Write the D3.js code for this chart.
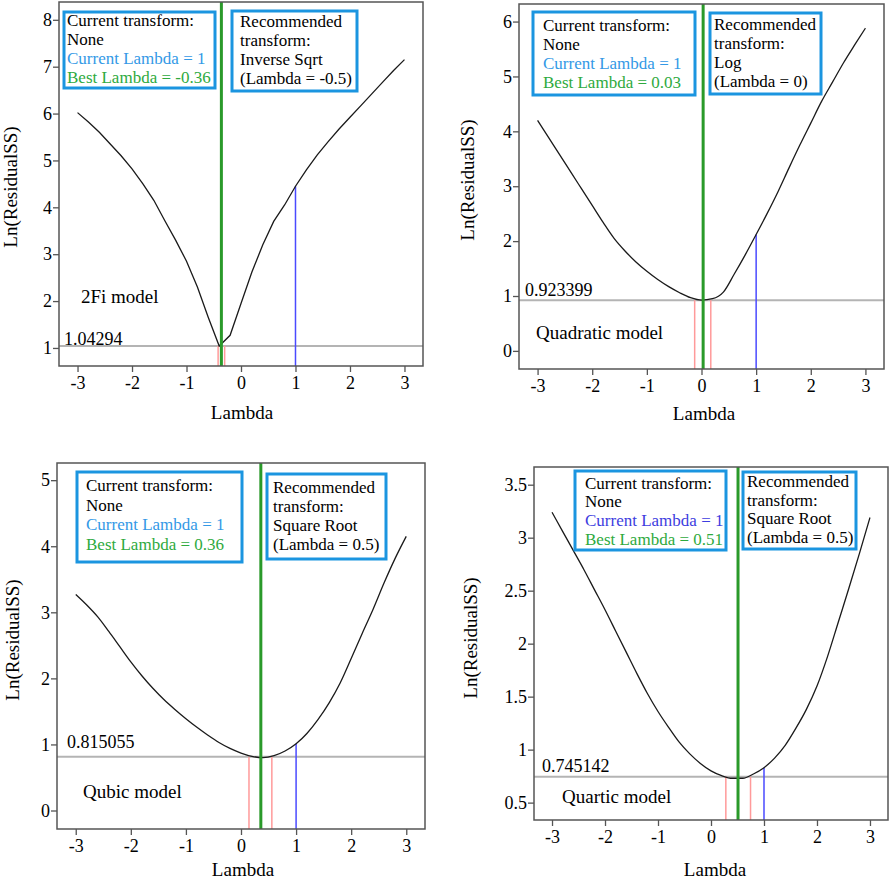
<!DOCTYPE html>
<html>
<head>
<meta charset="utf-8">
<script src="https://cdn.jsdelivr.net/npm/d3@7"></script>
<style>
  html, body { margin: 0; padding: 0; background: #fff; }
  svg { display: block; }
  text { font-family: "Liberation Serif", "Times New Roman", serif; fill: #000; }
</style>
</head>
<body>
<svg id="chart" width="890" height="880"></svg>
<script>
// ---------------- DATA ----------------
const lambdaGrid = [-3.0, -2.8, -2.6, -2.4, -2.2, -2.0, -1.8, -1.6, -1.4, -1.2, -1.0, -0.8, -0.6, -0.4, -0.2,
                    0.0, 0.2, 0.4, 0.6, 0.8, 1.0, 1.2, 1.4, 1.6, 1.8, 2.0, 2.2, 2.4, 2.6, 2.8, 3.0];

const rss2Fi       = [6.02, 5.82, 5.60, 5.35, 5.10, 4.82, 4.50, 4.15, 3.72, 3.30, 2.85, 2.30, 1.65, 1.04, 1.27,
                      1.95, 2.62, 3.20, 3.70, 4.05, 4.45, 4.80, 5.12, 5.40, 5.67, 5.92, 6.17, 6.42, 6.67, 6.92, 7.15];
const rssQuadratic = [4.20, 3.89, 3.58, 3.27, 2.96, 2.65, 2.34, 2.05, 1.82, 1.62, 1.45, 1.30, 1.17, 1.06, 0.97,
                      0.925, 0.95, 1.07, 1.40, 1.75, 2.12, 2.50, 2.90, 3.33, 3.75, 4.15, 4.55, 4.90, 5.25, 5.57, 5.88];
const rssCubic     = [3.27, 3.11, 2.93, 2.71, 2.48, 2.25, 2.04, 1.85, 1.68, 1.53, 1.39, 1.26, 1.14, 1.03, 0.94,
                      0.87, 0.82, 0.80, 0.83, 0.90, 1.01, 1.17, 1.38, 1.63, 1.93, 2.30, 2.68, 3.05, 3.45, 3.82, 4.15];
const rssQuartic   = [3.24, 3.06, 2.88, 2.70, 2.51, 2.32, 2.12, 1.92, 1.72, 1.53, 1.36, 1.21, 1.07, 0.96, 0.87,
                      0.80, 0.755, 0.73, 0.73, 0.77, 0.83, 0.92, 1.04, 1.20, 1.38, 1.60, 1.88, 2.20, 2.52, 2.85, 3.19];

const modelNames     = ["2Fi model", "Quadratic model", "Qubic model", "Quartic model"];
const minRSS         = [1.04294, 0.923399, 0.815055, 0.745142];
const minRSSLabels   = ["1.04294", "0.923399", "0.815055", "0.745142"];
const bestLambda     = [-0.36, 0.03, 0.36, 0.51];
const ciLow          = [-0.42, -0.125, 0.145, 0.28];
const ciHigh         = [-0.30, 0.17, 0.56, 0.746];
const currentLambda  = [1, 1, 1, 1];
const recTransform   = ["Inverse Sqrt", "Log", "Square Root", "Square Root"];
const recLambda      = ["-0.5", "0", "0.5", "0.5"];
const bestLabels     = ["-0.36", "0.03", "0.36", "0.51"];

const xTicks  = [-3, -2, -1, 0, 1, 2, 3];
const yTicks1 = [1, 2, 3, 4, 5, 6, 7, 8];
const yTicks2 = [0, 1, 2, 3, 4, 5, 6];
const yTicks3 = [0, 1, 2, 3, 4, 5];
const yTicks4 = [0.5, 1, 1.5, 2, 2.5, 3, 3.5];

const xTitle = "Lambda";
const yTitle = "Ln(ResidualSS)";

// ---------------- LAYOUT ----------------
const panels = [
  { rss: rss2Fi, yTicks: yTicks1, x0: 59, x1: 423, y0: 2, y1: 366, yDom: [0.615, 8.38], curve: d3.curveLinear,
    yTitleX: 10, yTitleY: 187, xTitleX: 242, xTitleY: 419,
    model: [81, 303], minLab: [64, 1],
    box1: [64, 12, 215, 88], t1: [67, 26, 19], box2: [232, 11, 357, 91], t2: [240, 27, 19], curColor: "#3399e6" },
  { rss: rssQuadratic, yTicks: yTicks2, x0: 519, x1: 884, y0: 4, y1: 369, yDom: [-0.33, 6.32], curve: d3.curveMonotoneX,
    yTitleX: 467, yTitleY: 180, xTitleX: 704, xTitleY: 420,
    model: [536, 339], minLab: [525, 4],
    box1: [533, 12, 695, 95], t1: [543, 30.5, 19], box2: [710, 13, 821, 94], t2: [714, 29.5, 19], curColor: "#3399e6" },
  { rss: rssCubic, yTicks: yTicks3, x0: 57, x1: 425, y0: 463, y1: 829, yDom: [-0.28, 5.26], curve: d3.curveMonotoneX,
    yTitleX: 12, yTitleY: 640, xTitleX: 243, xTitleY: 876,
    model: [83, 798], minLab: [67, 8.5],
    box1: [77, 472, 242, 562], t1: [86, 491, 19.5], box2: [267, 474, 386, 559], t2: [273, 493, 19], curColor: "#3399e6" },
  { rss: rssQuartic, yTicks: yTicks4, x0: 534, x1: 888, y0: 467, y1: 820, yDom: [0.336, 3.667], curve: d3.curveMonotoneX,
    yTitleX: 470, yTitleY: 638, xTitleX: 715, xTitleY: 876,
    model: [562, 803], minLab: [542, 5],
    box1: [575, 471, 726, 550], t1: [585, 488.5, 18.7], box2: [743, 472, 856, 549], t2: [747, 487, 18.7], curColor: "#3d3de0" }
];

const svg = d3.select("#chart");
const GREEN = "#2a9a2a", BOX = "#1b95e0", BESTC = "#2eaa3e";

panels.forEach((p, i) => {
  const x = d3.scaleLinear().domain([-3.34, 3.34]).range([p.x0, p.x1]);
  const y = d3.scaleLinear().domain(p.yDom).range([p.y1, p.y0]);
  const g = svg.append("g");

  // min reference line
  g.append("line").attr("x1", p.x0).attr("x2", p.x1)
    .attr("y1", y(minRSS[i])).attr("y2", y(minRSS[i]))
    .attr("stroke", "#b4b4b4").attr("stroke-width", 2);

  // CI (pink) lines
  [ciLow[i], ciHigh[i]].forEach(l => {
    g.append("line").attr("x1", x(l)).attr("x2", x(l))
      .attr("y1", p.y1).attr("y2", y(minRSS[i]))
      .attr("stroke", "#ff9a9a").attr("stroke-width", 1.5);
  });

  // current lambda (blue) line up to the curve
  const idx = lambdaGrid.indexOf(currentLambda[i]);
  g.append("line").attr("x1", x(currentLambda[i])).attr("x2", x(currentLambda[i]))
    .attr("y1", p.y1).attr("y2", y(p.rss[idx]))
    .attr("stroke", "#4a4aff").attr("stroke-width", 1.5);

  // curve
  const pts = lambdaGrid.map((l, k) => [l, p.rss[k]]);
  g.append("path").datum(pts)
    .attr("d", d3.line().x(d => x(d[0])).y(d => y(d[1])).curve(p.curve))
    .attr("fill", "none").attr("stroke", "#1a1a1a").attr("stroke-width", 1.3);

  // best lambda (green) line
  g.append("line").attr("x1", x(bestLambda[i])).attr("x2", x(bestLambda[i]))
    .attr("y1", p.y1).attr("y2", p.y0)
    .attr("stroke", GREEN).attr("stroke-width", 3);

  // frame
  g.append("rect").attr("x", p.x0).attr("y", p.y0)
    .attr("width", p.x1 - p.x0).attr("height", p.y1 - p.y0)
    .attr("fill", "none").attr("stroke", "#555").attr("stroke-width", 1.5);

  // axes
  const xa = g.append("g").attr("transform", `translate(0,${p.y1})`)
    .call(d3.axisBottom(x).tickValues(xTicks).tickFormat(d => String(d)).tickSize(6).tickPadding(4));
  const ya = g.append("g").attr("transform", `translate(${p.x0},0)`)
    .call(d3.axisLeft(y).tickValues(p.yTicks).tickFormat(d => String(d)).tickSize(6).tickPadding(1));
  [xa, ya].forEach(a => {
    a.select(".domain").remove();
    a.selectAll(".tick line").attr("stroke", "#555").attr("stroke-width", 1.3);
    a.selectAll(".tick text").attr("font-size", 18).attr("font-family", "Liberation Serif").attr("fill", "#000");
  });

  // titles
  g.append("text").attr("x", p.xTitleX).attr("y", p.xTitleY)
    .attr("text-anchor", "middle").attr("font-size", 19).text(xTitle);
  g.append("text").attr("transform", `translate(${p.yTitleX},${p.yTitleY}) rotate(-90)`)
    .attr("text-anchor", "middle").attr("dominant-baseline", "central")
    .attr("font-size", 19).text(yTitle);

  // model label
  g.append("text").attr("x", p.model[0]).attr("y", p.model[1])
    .attr("font-size", 19).text(modelNames[i]);

  // min value label
  g.append("text").attr("x", p.minLab[0]).attr("y", y(minRSS[i]) - p.minLab[1])
    .attr("font-size", 18).text(minRSSLabels[i]);

  // info boxes
  const b1 = p.box1, b2 = p.box2;
  [b1, b2].forEach(b => {
    g.append("rect").attr("x", b[0]).attr("y", b[1]).attr("width", b[2] - b[0]).attr("height", b[3] - b[1])
      .attr("fill", "#fff").attr("stroke", BOX).attr("stroke-width", 3);
  });
  const lines1 = [
    ["Current transform:", "#000"],
    ["None", "#000"],
    ["Current Lambda = " + currentLambda[i], p.curColor],
    ["Best Lambda = " + bestLabels[i], BESTC]
  ];
  lines1.forEach((ln, k) => {
    g.append("text").attr("x", p.t1[0]).attr("y", p.t1[1] + k * p.t1[2])
      .attr("font-size", 17).style("fill", ln[1]).text(ln[0]);
  });
  const lines2 = ["Recommended", "transform:", recTransform[i], "(Lambda = " + recLambda[i] + ")"];
  lines2.forEach((ln, k) => {
    g.append("text").attr("x", p.t2[0]).attr("y", p.t2[1] + k * p.t2[2])
      .attr("font-size", 17).text(ln);
  });
});
</script>
</body>
</html>
